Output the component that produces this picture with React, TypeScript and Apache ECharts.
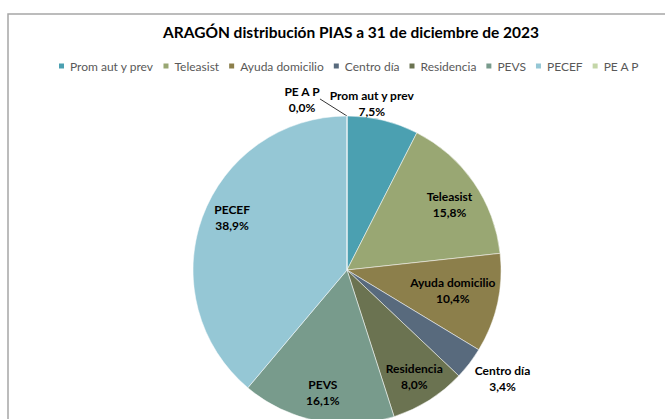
import React, { useEffect, useRef } from "react";
import * as echarts from "echarts";

const title = "ARAGÓN distribución PIAS a 31 de diciembre de 2023";
const categories = ["Prom aut y prev", "Teleasist", "Ayuda domicilio", "Centro día", "Residencia", "PEVS", "PECEF", "PE A P"];
const values = [7.5, 15.8, 10.4, 3.4, 8.0, 16.1, 38.9, 0.0];
const colors = ["#4BA0B1", "#99A773", "#8C7F4B", "#586A7D", "#6B7351", "#789B8C", "#95C7D5", "#C4D6A8"];
// radial position of each label, as a share of the radius (style)
const labelRadius = [1.09, 0.79, 0.7, 1.23, 0.82, 0.81, 0.82, 1.0];
const labelTurn = [-5, 2, -1.5, -2.5, 0, 0, 4.5, 0];

const FONT = "Lato, 'Liberation Sans', sans-serif";
const CX = 347;
const CY = 270;
const R = 154;

export default function App() {
  const ref = useRef<HTMLDivElement>(null);
  useEffect(() => {
    document.body.style.margin = "0";
    const chart = echarts.init(ref.current!, null, { renderer: "svg" });
    const total = values.reduce((a, b) => a + b, 0);
    const mids: number[] = [];
    let acc = 0;
    values.forEach((v) => {
      mids.push(((acc + v / 2) / total) * 360);
      acc += v;
    });
    const fmt = (v: number) => v.toFixed(1).replace(".", ",") + "%";
    chart.setOption({
      animation: false,
      graphic: [
        {
          type: "rect",
          shape: { x: 8, y: 14, width: 720, height: 500 },
          style: { fill: "none", stroke: "#A6A6A6", lineWidth: 1.5 },
          silent: true,
        },
      ],
      title: {
        text: title,
        left: 346,
        top: 19,
        textAlign: "center",
        textStyle: { fontFamily: FONT, fontSize: 15.5, fontWeight: "bold", color: "#000" },
      },
      legend: {
        top: 55,
        left: 52,
        itemWidth: 7,
        itemHeight: 7,
        itemGap: 8,
        icon: "rect",
        data: categories,
        textStyle: { fontFamily: FONT, fontSize: 12, color: "#595959" },
      },
      series: [
        {
          type: "pie",
          center: [CX, CY],
          radius: R,
          startAngle: 90,
          clockwise: true,
          avoidLabelOverlap: false,
          itemStyle: { borderColor: "#ffffff", borderWidth: 0.5 },
          label: {
            show: true,
            position: "inside",
            fontFamily: FONT,
            fontSize: 12,
            fontWeight: "bold",
            color: "#000",
            lineHeight: 16,
            formatter: (p: any) => `${p.name}\n${fmt(p.value)}`,
          },
          labelLine: { show: false },
          labelLayout: (p: any) => {
            const i = p.dataIndex;
            const a = ((mids[i] + labelTurn[i]) * Math.PI) / 180;
            const k = labelRadius[i];
            if (i === 7) {
              return { x: CX - 45, y: CY - R - 17, align: "center", verticalAlign: "middle" };
            }
            return {
              x: CX + Math.sin(a) * R * k,
              y: CY - Math.cos(a) * R * k,
              align: "center",
              verticalAlign: "middle",
            };
          },
          data: categories.map((name, i) => ({
            name,
            value: values[i] === 0 ? 0.0001 : values[i],
            itemStyle: { color: colors[i] },
            label:
              i === 7
                ? { position: "outside", padding: [0, 0, 22, 0], formatter: `${name}\n${fmt(values[i])}` }
                : undefined,
            labelLine: i === 7 ? { show: true, length: 0.1, length2: 0.1, lineStyle: { color: "#000", width: 0.8 } } : undefined,
          })),
        },
      ],
    });
    return () => chart.dispose();
  }, []);
  return <div ref={ref} style={{ width: 665, height: 419 }} />;
}
